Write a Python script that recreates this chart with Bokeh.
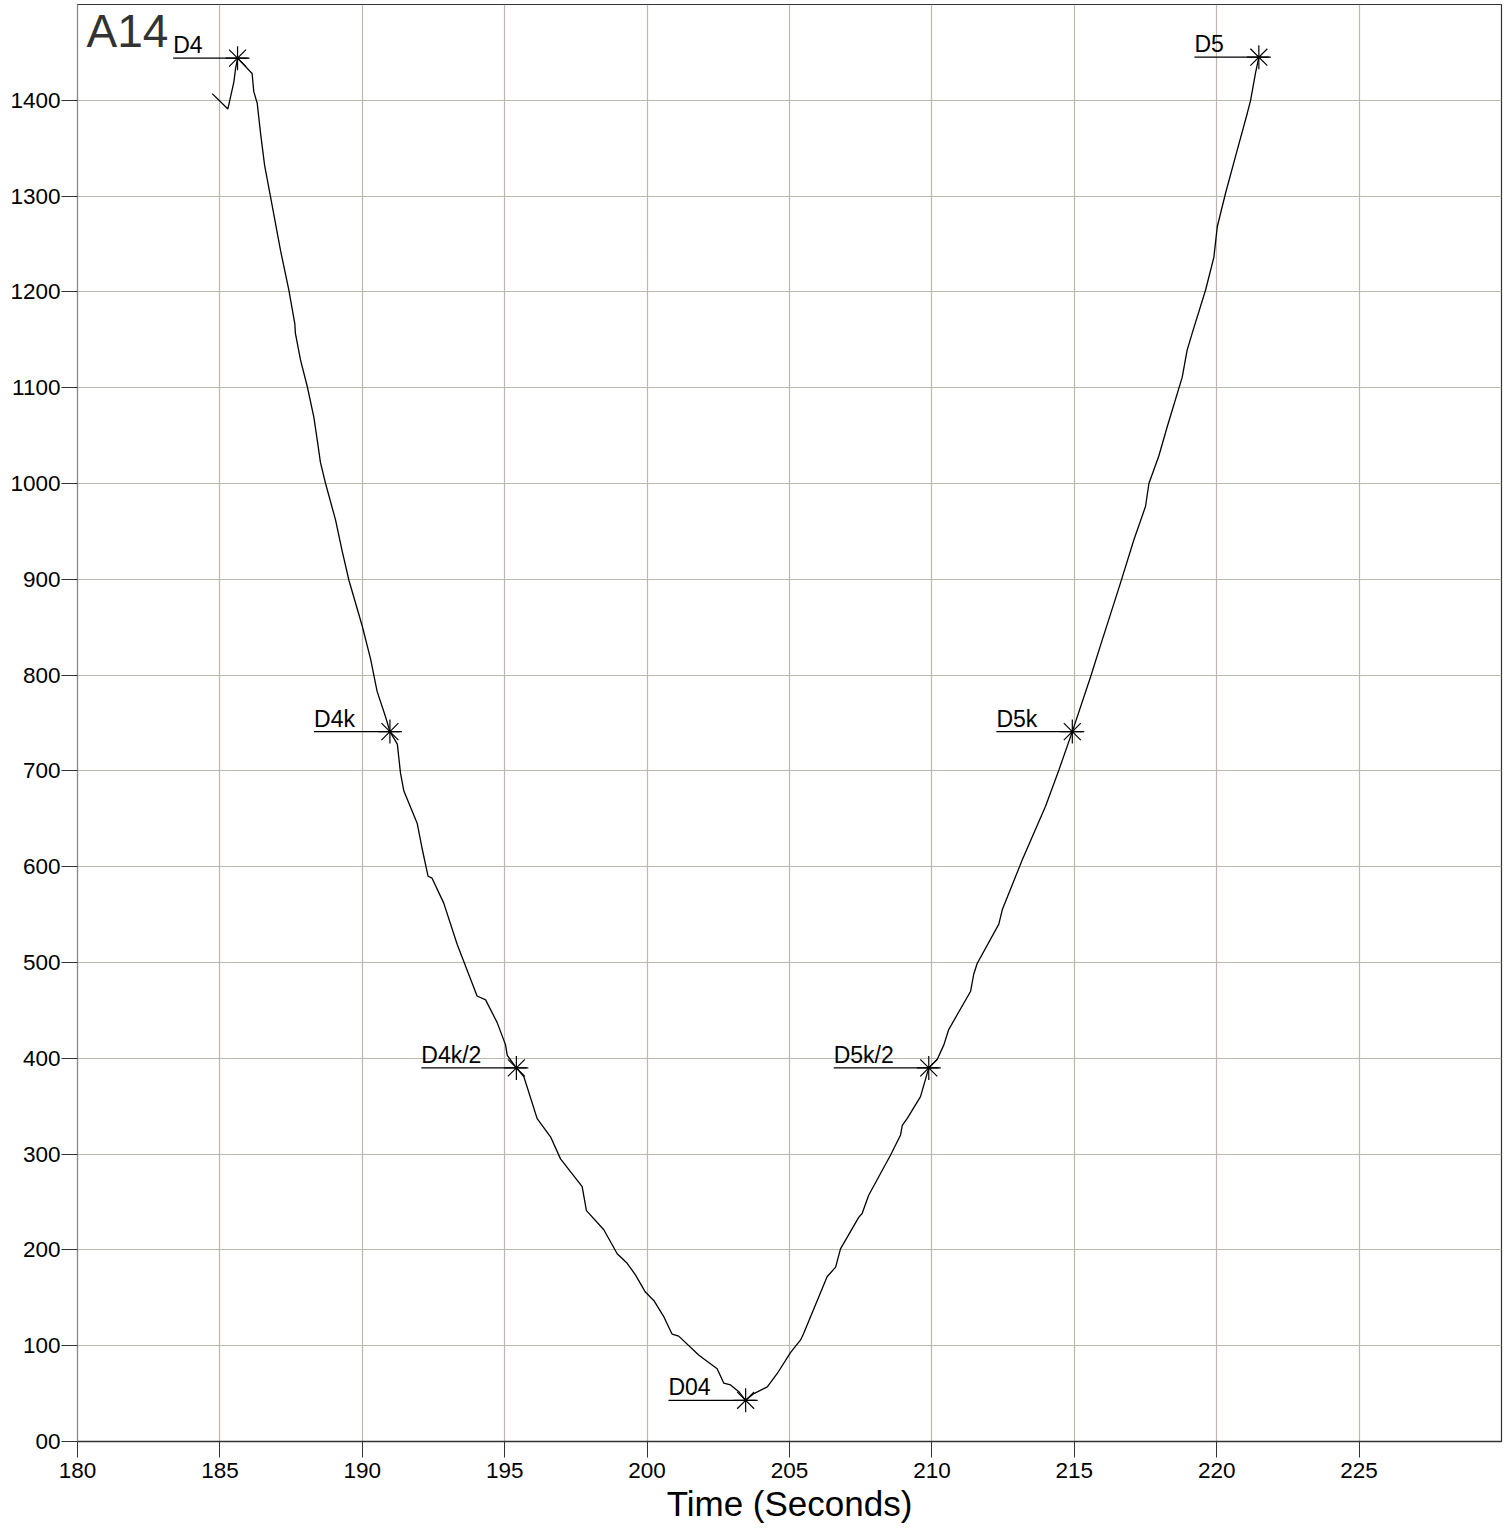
from bokeh.plotting import figure
from bokeh.models import FixedTicker, Label
from bokeh.embed import file_html
from bokeh.resources import INLINE
from bokeh.core.properties import value

# ---- data ----
time_s = [184.73, 185.28, 185.49, 185.55, 185.62, 186.13, 186.19, 186.31, 186.43, 186.57,
          186.78, 187.13, 187.42, 187.63, 187.65, 187.83, 188.07, 188.30, 188.42, 188.53,
          188.71, 189.06, 189.29, 189.53, 190.00, 190.29, 190.52, 190.81, 190.97, 191.23,
          191.34, 191.46, 191.93, 192.10, 192.31, 192.45, 192.86, 193.33, 194.03, 194.33,
          194.74, 195.03, 195.09, 195.41, 195.67, 196.14, 196.61, 196.96, 197.72, 197.87,
          198.48, 198.95, 199.30, 199.59, 199.94, 200.24, 200.59, 200.88, 201.11, 201.82,
          202.46, 202.69, 202.93, 203.22, 203.46, 203.75, 204.22, 204.57, 205.04, 205.39,
          205.50, 206.32, 206.62, 206.79, 207.43, 207.55, 207.78, 208.55, 208.90, 208.96,
          209.13, 209.60, 209.89, 210.19, 210.42, 210.59, 211.36, 211.47, 211.59, 212.35,
          212.47, 213.17, 213.99, 214.46, 214.93, 215.57, 215.92, 216.62, 217.09, 217.50,
          217.62, 217.97, 218.26, 218.79, 218.96, 219.14, 219.61, 219.90, 220.02, 220.31,
          220.72, 221.07, 221.19, 221.36, 221.48]
depth = [1407, 1391, 1419, 1433, 1444, 1428, 1409, 1397, 1365, 1332,
         1299, 1243, 1202, 1167, 1157, 1129, 1101, 1069, 1045, 1022,
         1000, 962, 930, 899, 851, 817, 783, 757, 741, 728,
         698, 679, 645, 619, 590, 588, 562, 519, 465, 461,
         437, 414, 403, 390, 381, 337, 318, 295, 266, 241,
         221, 196, 186, 174, 156, 147, 130, 112, 110, 90,
         76, 61, 59, 52, 43, 50, 57, 71, 93, 106,
         113, 172, 182, 201, 234, 238, 257, 299, 320, 330,
         337, 360, 390, 399, 414, 430, 470, 488, 499, 540,
         555, 607, 663, 701, 741, 798, 831, 896, 941, 976,
         1000, 1029, 1059, 1111, 1139, 1157, 1202, 1236, 1268, 1303,
         1348, 1386, 1400, 1428, 1445]

marker_names = ["D4", "D4k", "D4k/2", "D04", "D5k/2", "D5k", "D5"]
marker_t = [185.62, 190.97, 195.41, 203.46, 209.89, 214.93, 221.48]
marker_v = [1444, 741, 390, 43, 390, 741, 1445]

x_ticks = [180, 185, 190, 195, 200, 205, 210, 215, 220, 225]
y_ticks = [0, 100, 200, 300, 400, 500, 600, 700, 800, 900, 1000, 1100, 1200, 1300, 1400]
y_overrides = {0: "00"}
panel_title = "A14"
x_title = "Time (Seconds)"

# ---- figure ----
FONT = "Liberation Sans"
W, H = 1504, 1527
BL, BR = 77, 3
X0, X1 = 180, 230
p = figure(width=W, height=H, x_range=(X0, X1), y_range=(0, 1500),
           output_backend="svg", toolbar_location=None,
           min_border_left=BL, min_border_right=BR, min_border_top=4, min_border_bottom=86)
p.background_fill_color = "white"
p.border_fill_color = "white"
p.outline_line_color = "#333333"
p.outline_line_width = 1.2

p.xaxis.ticker = FixedTicker(ticks=x_ticks)
p.yaxis.ticker = FixedTicker(ticks=y_ticks)
p.yaxis.major_label_overrides = y_overrides
for ax in (p.xaxis, p.yaxis):
    ax.major_tick_in = 0
    ax.major_tick_out = 16
    ax.minor_tick_line_color = None
    ax.major_tick_line_color = "#333333"
    ax.major_label_text_font = FONT
    ax.major_label_text_font_size = "22.5px"
    ax.major_label_text_color = "black"
p.xaxis.axis_line_color = "#333333"
p.xaxis.axis_line_width = 1.5
p.yaxis.axis_line_color = "#8a8a8a"
p.xaxis.major_label_standoff = 5
p.yaxis.major_label_standoff = 1
p.xaxis.axis_label = x_title
p.xaxis.axis_label_text_font = FONT
p.xaxis.axis_label_text_font_size = "35px"
p.xaxis.axis_label_text_font_style = "normal"
p.xaxis.axis_label_text_color = "black"
p.xaxis.axis_label_standoff = 3

p.xgrid.ticker = FixedTicker(ticks=x_ticks)
p.ygrid.ticker = FixedTicker(ticks=y_ticks)
p.grid.grid_line_color = "#bcb8ad"
p.grid.grid_line_width = 1.2

# curve
p.line(time_s, depth, line_color="black", line_width=1.3)

# markers
p.scatter(marker_t, marker_v, marker="asterisk", size=24, line_color="black", line_width=1.2)

# leader lines and labels
pxu = (W - BL - BR) / (X1 - X0)
cw = {"D": .722, "0": .556, "4": .556, "5": .556, "2": .556, "k": .5, "/": .278}
lab_px = 23
x0s, x1s = [], []
for n, t in zip(marker_names, marker_t):
    w = sum(cw.get(c, .556) for c in n) * lab_px
    x0s.append(t - (35 + w) / pxu)
    x1s.append(t + 10 / pxu)
p.segment(x0=x0s, y0=marker_v, x1=x1s, y1=marker_v, line_color="black", line_width=1.3)
p.text(x=x0s, y=marker_v, text=marker_names, text_font=value(FONT),
       text_font_size="23px", text_color="black", text_baseline="bottom",
       text_align="left")

# panel title
p.add_layout(Label(x=X0, y=1500, x_offset=9, y_offset=0, text=panel_title,
                   text_font=FONT, text_font_size="46px", text_color="#333333",
                   text_baseline="top", text_align="left"))

open("out.html", "w").write(file_html(p, INLINE))
